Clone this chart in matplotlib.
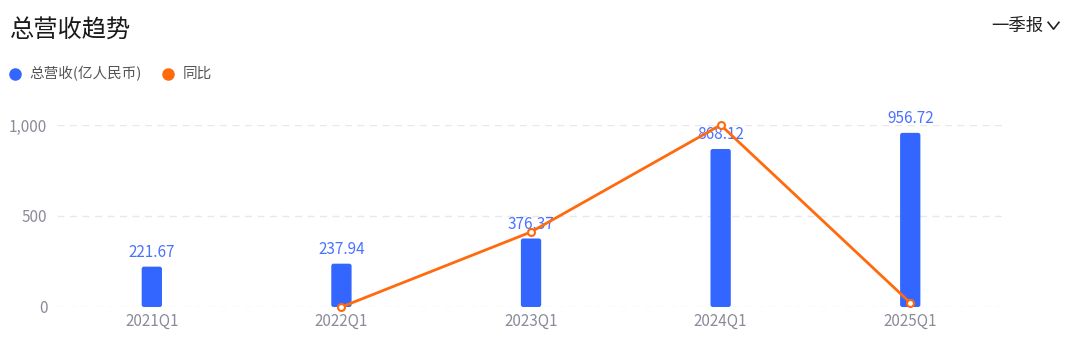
import matplotlib
matplotlib.use("Agg")
import matplotlib.pyplot as plt
from matplotlib.patches import FancyBboxPatch
from matplotlib.lines import Line2D
import numpy as np

plt.rcParams['font.family'] = ['Noto Sans CJK SC', 'DejaVu Sans']

# 数据
quarters = ['2021Q1', '2022Q1', '2023Q1', '2024Q1', '2025Q1']
revenue = [221.67, 237.94, 376.37, 868.12, 956.72]   # 亿人民币
yoy = [np.nan, 7.34, 58.18, 130.66, 10.21]           # 同比 %
yticks = [0, 500, 1000]

blue = '#3366ff'
label_blue = '#4a72ff'
orange = '#ff6a0d'
grey = '#8a8c99'

fig = plt.figure(figsize=(10.8, 3.43), dpi=100, facecolor='white')
ax = fig.add_axes([0.0528, 0.105, 0.8778, 0.5306])

x = np.arange(len(quarters))
bar_w = 0.107
for xi, v in zip(x, revenue):
    bar = FancyBboxPatch((xi - bar_w / 2, 0), bar_w, v,
                         boxstyle="round,pad=0,rounding_size=0.012",
                         mutation_aspect=1050, fc=blue, ec='none', zorder=2)
    ax.add_patch(bar)
    ax.annotate(f'{v:.2f}', (xi, v), xytext=(0, 4), textcoords='offset points',
                ha='center', va='bottom', fontsize=11, color=label_blue, zorder=3)

ax.set_xlim(-0.5, len(quarters) - 0.5)
ax.set_ylim(0, 1000)
ax.set_yticks(yticks)
ax.set_yticklabels([f'{t:,}' for t in yticks])
ax.set_xticks(x)
ax.set_xticklabels(quarters)
ax.tick_params(axis='both', length=0, labelsize=11, labelcolor=grey)
ax.tick_params(axis='y', pad=7)
ax.tick_params(axis='x', pad=4)
for t in yticks:
    ax.axhline(t, color='#e8e8ec', lw=1, ls=(0, (5, 4)), zorder=1)
for s in ax.spines.values():
    s.set_visible(False)

# 同比 次坐标轴（隐藏）
ax2 = ax.twinx()
ax2.set_ylim(np.nanmin(yoy), np.nanmax(yoy))
ax2.plot(x, yoy, color=orange, lw=2, marker='o', ms=5, mfc='white',
         mec=orange, mew=1.5, clip_on=False, zorder=4)
ax2.axis('off')

# 标题与图例
fig.text(0.009, 0.91, '总营收趋势', fontsize=17.5, color='#1a1a1a', va='center')
fig.text(0.966, 0.925, '一季报', fontsize=12.5, color='#222222', va='center', ha='right')
fig.add_artist(Line2D([0.9705, 0.9755, 0.9805], [0.935, 0.915, 0.935],
                      transform=fig.transFigure, color='#222222', lw=1.2))

fig.add_artist(Line2D([0.0135], [0.785], marker='o', ms=8, color='#3366ff',
                      transform=fig.transFigure, ls='none'))
fig.text(0.027, 0.785, '总营收(亿人民币)', fontsize=10.5, color='#555555', va='center')
fig.add_artist(Line2D([0.156], [0.785], marker='o', ms=8, color=orange,
                      transform=fig.transFigure, ls='none'))
fig.text(0.169, 0.785, '同比', fontsize=10.5, color='#555555', va='center')

fig.savefig('out.png', dpi=100, facecolor='white')
